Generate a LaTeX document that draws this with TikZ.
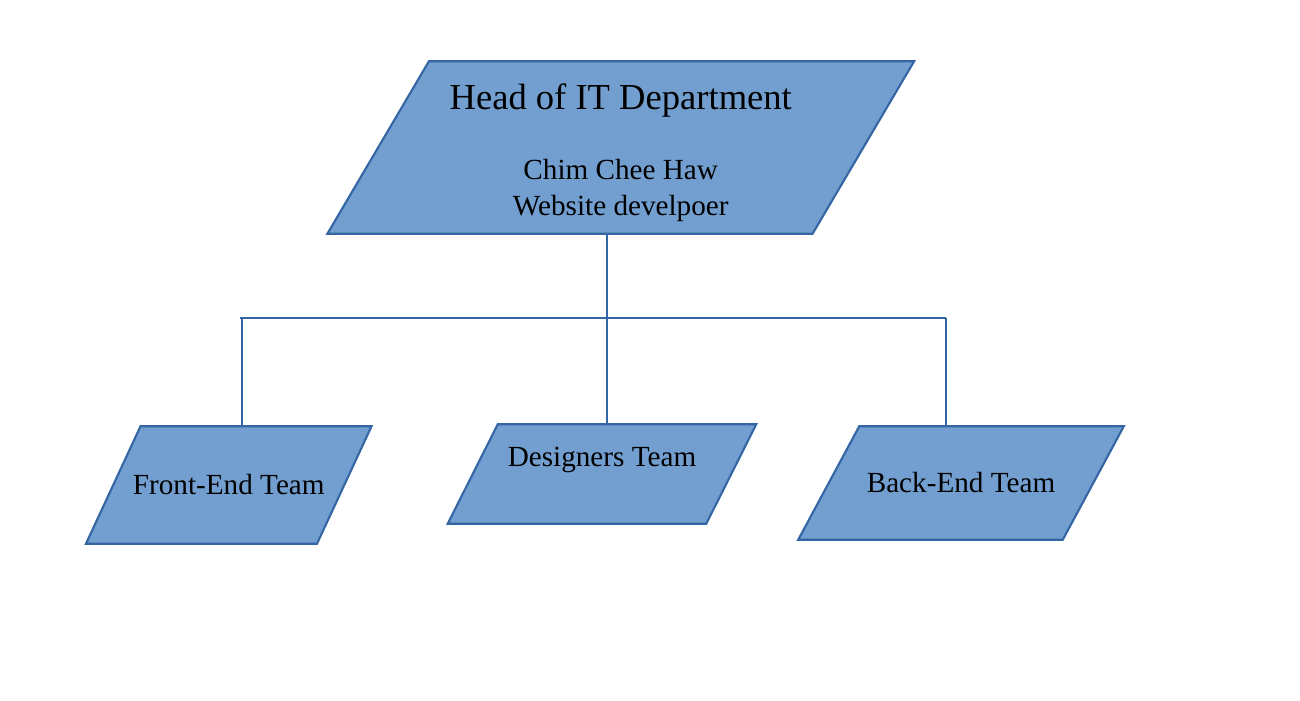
\documentclass[tikz,border=0pt]{standalone}
\usepackage{fontspec}
\setmainfont{Liberation Serif}
\usepackage{xcolor}
\usepackage{tikz}
\usetikzlibrary{positioning,calc,backgrounds}
\definecolor{boxfill}{HTML}{729FCF}
\definecolor{boxline}{HTML}{3465A4}
\tikzset{team/.style={inner sep=0pt,align=center,
  font=\fontsize{8.3}{10.5}\selectfont},
  slantbox/.style={draw=boxline,line width=0.6pt,fill=boxfill},
  link/.style={draw=boxline,line width=0.4pt}}

\begin{document}
\begin{tikzpicture}[x=0.01cm,y=-0.01cm]
\useasboundingbox (0,0) rectangle (1300,700);
\node[team,minimum width=4.835cm,minimum height=1.71cm] (head) at (620.75,147.5)
  {\rule{0pt}{10.5pt}{\fontsize{10.4}{12}\selectfont Head of IT Department}\\[9.2pt]
   Chim Chee Haw\\ Website develpoer};
\node[team,minimum width=2.295cm,minimum height=1.16cm] (front) at (228.75,485) {Front-End Team};
\node[team,minimum width=2.57cm,minimum height=0.98cm,text depth=10pt] (design) at (602,474) {Designers Team};
\node[team,minimum width=2.63cm,minimum height=1.12cm] (back) at (961,483) {Back-End Team};
% parallelograms behind the texts (half slant in cm)
\begin{scope}[on background layer]
\foreach \n/\s in {head/0.5075,front/0.2725,design/0.25,back/0.305}
  \path[slantbox] ([xshift=\s cm]\n.north west) -- ([xshift=\s cm]\n.north east)
    -- ([xshift=-\s cm]\n.south east) -- ([xshift=-\s cm]\n.south west) -- cycle;
\end{scope}
% tree of links
\coordinate (tx) at (607,0);
\coordinate (lx) at (242,0);
\coordinate (busl) at (240,318);
\coordinate (busr) at (946,318);
\path[link] (tx |- head.south) -- (tx |- design.north);
\path[link] (busl) -- (busr);
\path[link] (lx |- busl) -- (lx |- front.north);
\path[link] (busr) -- (busr |- back.north);
\end{tikzpicture}
\end{document}
